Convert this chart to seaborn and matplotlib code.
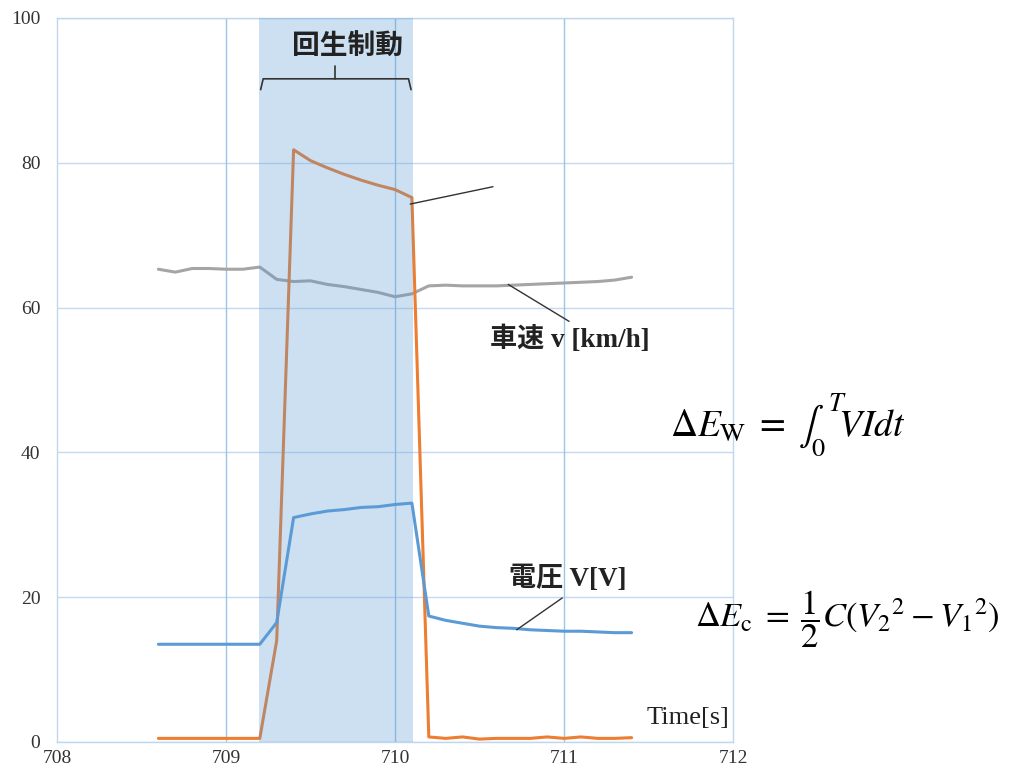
import numpy as np
import pandas as pd
import matplotlib
matplotlib.use("Agg")
import matplotlib.pyplot as plt
import seaborn as sns

# ---- data ----
time_s = [708.6, 708.7, 708.8, 708.9, 709.0, 709.1, 709.2, 709.3, 709.4, 709.5,
          709.6, 709.7, 709.8, 709.9, 710.0, 710.1, 710.2, 710.3, 710.4, 710.5,
          710.6, 710.7, 710.8, 710.9, 711.0, 711.1, 711.2, 711.3, 711.4]
current = [0.5, 0.5, 0.5, 0.5, 0.5, 0.5, 0.5, 14.0, 81.8, 80.3,
           79.3, 78.4, 77.6, 76.9, 76.3, 75.2, 0.7, 0.5, 0.7, 0.4,
           0.5, 0.5, 0.5, 0.7, 0.5, 0.7, 0.5, 0.5, 0.6]
speed = [65.3, 64.9, 65.4, 65.4, 65.3, 65.3, 65.6, 63.9, 63.6, 63.7,
         63.2, 62.9, 62.5, 62.1, 61.5, 61.9, 63.0, 63.1, 63.0, 63.0,
         63.0, 63.1, 63.2, 63.3, 63.4, 63.5, 63.6, 63.8, 64.2]
voltage = [13.5, 13.5, 13.5, 13.5, 13.5, 13.5, 13.5, 16.5, 31.0, 31.5,
           31.9, 32.1, 32.4, 32.5, 32.8, 33.0, 17.4, 16.8, 16.4, 16.0,
           15.8, 15.7, 15.5, 15.4, 15.3, 15.3, 15.2, 15.1, 15.1]
x_ticks = [708, 709, 710, 711, 712]
y_ticks = [0, 20, 40, 60, 80, 100]
regen_span = (709.195, 710.105)

df = pd.DataFrame({"t": time_s, "current": current, "speed": speed, "voltage": voltage})

sns.set_theme(style="white")
plt.rcParams["font.family"] = ["Liberation Serif", "Noto Sans CJK JP"]
plt.rcParams["mathtext.fontset"] = "stix"

fig = plt.figure(figsize=(10.11, 7.78), dpi=100)
ax = fig.add_axes([57 / 1011, 1 - 742 / 778, (733 - 57) / 1011, (742 - 18) / 778])

# grid
for yv in y_ticks:
    ax.axhline(yv, color="#C5D9F1", lw=1.0, zorder=0)
for xv in x_ticks[1:-1]:
    ax.axvline(xv, color="#9DC3E6", lw=1.0, zorder=0)

sns.lineplot(data=df, x="t", y="speed", ax=ax, color="#A5A5A5", lw=2.2, zorder=2)
sns.lineplot(data=df, x="t", y="current", ax=ax, color="#ED7D31", lw=2.2, zorder=2)
sns.lineplot(data=df, x="t", y="voltage", ax=ax, color="#5B9BD5", lw=2.2, zorder=4)

ax.axvspan(regen_span[0], regen_span[1], color="#5B9BD5", alpha=0.3, lw=0, zorder=3)

ax.set_xlim(708, 712)
ax.set_ylim(0, 100)
ax.set_xticks(x_ticks)
ax.set_yticks(y_ticks)
ax.set_xticklabels([str(v) for v in x_ticks])
ax.set_yticklabels([str(v) for v in y_ticks])
ax.set_xlabel("")
ax.set_ylabel("")
ax.tick_params(axis="both", length=0, labelsize=14, colors="#333333")
ax.tick_params(axis="y", pad=12)
ax.tick_params(axis="x", pad=6)
for s in ax.spines.values():
    s.set_color("#BDD7EE")
    s.set_linewidth(1.0)

# brace over regenerative braking span
bx0, bx1, bm = 709.205, 710.095, 709.645
ax.plot([bx0, bx0 + 0.015, bx1 - 0.015, bx1], [90.1, 91.6, 91.6, 90.1],
        color="#333333", lw=1.2, zorder=5, clip_on=False)
ax.plot([bm, bm], [91.6, 93.4], color="#333333", lw=1.2, zorder=5)
ax.text(709.72, 96.0, "回生制動", ha="center", va="center", fontsize=20,
        fontweight="bold", family=["Noto Sans CJK JP"], color="#222222", zorder=6)

# leader lines and labels
ax.plot([710.09, 710.58], [74.3, 76.7], color="#333333", lw=1.0, zorder=5)
ax.plot([710.67, 711.03], [63.2, 58.1], color="#333333", lw=1.0, zorder=5)
ax.plot([710.72, 710.99], [15.5, 19.9], color="#333333", lw=1.0, zorder=5)
ax.text(711.035, 55.6, "車速 v [km/h]", ha="center", va="center", fontsize=19.5,
        fontweight="bold", color="#222222", zorder=6)
ax.text(711.02, 22.5, "電圧 V[V]", ha="center", va="center", fontsize=19.5,
        fontweight="bold", color="#222222", zorder=6)
ax.text(711.98, 3.3, "Time[s]", ha="right", va="center", fontsize=19,
        color="#222222", zorder=6)

# equations
fig.text(670 / 1011, 1 - 425 / 778, r"$\Delta E_{\mathrm{W}} \;=\; \int_0^{\,T}\! VIdt$",
         ha="left", va="center", fontsize=27, color="black")
fig.text(695 / 1011, 1 - 619 / 778, r"$\Delta E_{\mathrm{c}} \;=\; \dfrac{1}{2}C(V_2{}^2 - V_1{}^2)$",
         ha="left", va="center", fontsize=24.8, color="black")

fig.savefig("out.png", dpi=100)
